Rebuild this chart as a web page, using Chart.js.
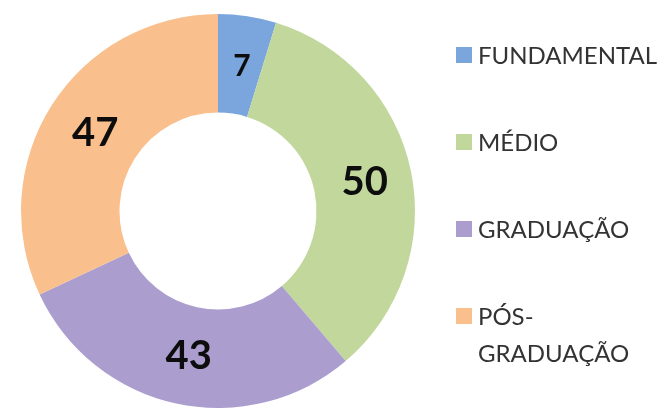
<!DOCTYPE html>
<html>
<head>
<meta charset="utf-8">
<script src="https://cdn.jsdelivr.net/npm/chart.js@4/dist/chart.umd.min.js"></script>
<style>
  html, body { margin: 0; padding: 0; background: #fff; }
  #wrap { width: 661px; height: 412px; }
</style>
</head>
<body>
<div id="wrap"><canvas id="escolaridade" width="661" height="412"></canvas></div>
<script>
// Escolaridade dos entrevistados
const categorias = ['FUNDAMENTAL', 'MÉDIO', 'GRADUAÇÃO', 'PÓS-GRADUAÇÃO'];
const legendaLinhas = [['FUNDAMENTAL'], ['MÉDIO'], ['GRADUAÇÃO'], ['PÓS-', 'GRADUAÇÃO']];
const valores = [7, 50, 43, 47];
const cores = ['#7ba6dd', '#c2d79b', '#ab9ecf', '#f9bf8c'];

// numbers centred on each ring segment
const rotulosPlugin = {
  id: 'rotulos',
  afterDatasetsDraw(chart){
    const ctx = chart.ctx;
    const meta = chart.getDatasetMeta(0);
    ctx.save();
    ctx.fillStyle = '#0d0d0d';
    ctx.textAlign = 'center';
    ctx.textBaseline = 'middle';
    meta.data.forEach((arc, i) => {
      const v = chart.data.datasets[0].data[i];
      const p = arc.tooltipPosition();
      ctx.font = 'bold ' + (v < 10 ? 30 : 40) + 'px Lato';
      ctx.fillText(String(v), p.x + 2, p.y + 1);
    });
    ctx.restore();
  }
};

// legend on the right, one row per category
const legendaPlugin = {
  id: 'legendaLateral',
  afterDraw(chart){
    const ctx = chart.ctx;
    const x0 = 456, y0 = 55, passo = 87, linha = 37;
    ctx.save();
    ctx.font = '24px Lato';
    ctx.textBaseline = 'middle';
    ctx.textAlign = 'left';
    legendaLinhas.forEach((linhas, i) => {
      const y = y0 + i * passo;
      ctx.fillStyle = cores[i];
      ctx.fillRect(x0, y - 8, 16, 16);
      ctx.fillStyle = '#333';
      linhas.forEach((t, j) => ctx.fillText(t, x0 + 22, y + j * linha + 1));
    });
    ctx.restore();
  }
};

new Chart(document.getElementById('escolaridade').getContext('2d'), {
  type: 'doughnut',
  data: {
    labels: categorias,
    datasets: [{ data: valores, backgroundColor: cores, borderWidth: 0 }]
  },
  options: {
    responsive: false,
    animation: false,
    cutout: '50%',
    layout: { padding: { left: 21, top: 14, right: 246, bottom: 4 } },
    plugins: { legend: { display: false }, tooltip: { enabled: false } }
  },
  plugins: [rotulosPlugin, legendaPlugin]
});
</script>
</body>
</html>
